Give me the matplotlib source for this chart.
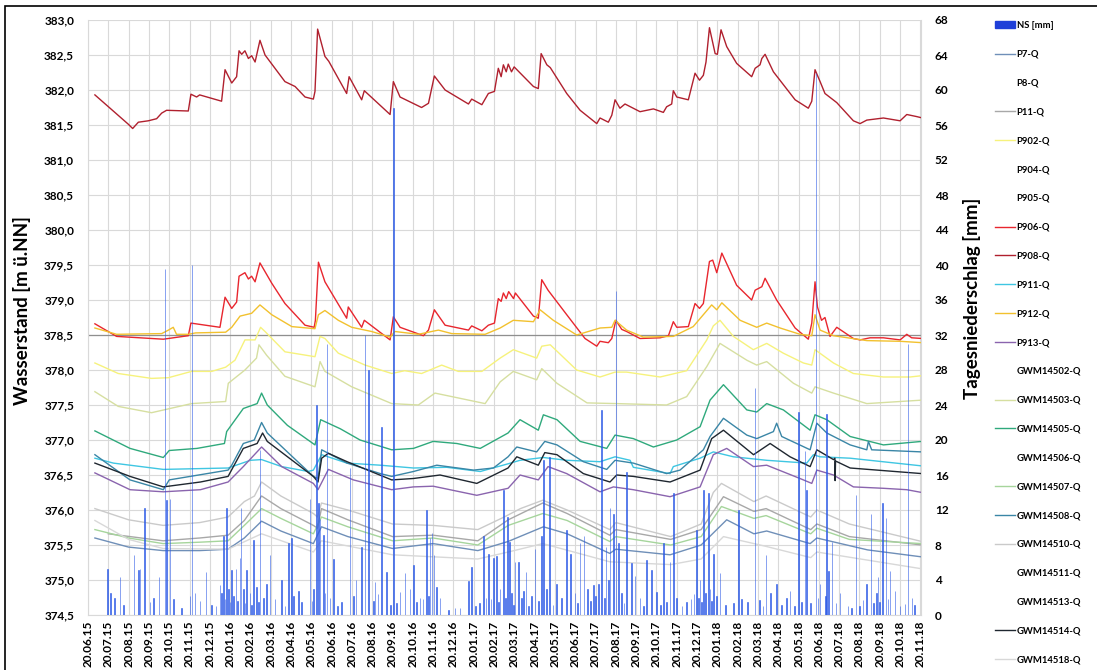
import matplotlib
matplotlib.use("Agg")
import matplotlib.pyplot as plt
import numpy as np
import pandas as pd
from matplotlib.lines import Line2D
from matplotlib.patches import Patch, Rectangle

plt.rcParams["font.family"] = ["Lato", "DejaVu Sans"]
plt.rcParams["font.weight"] = "bold"

# x = months since 20.06.15 (one gridline per month)
MONTH_LABELS = list(
    pd.date_range("2015-06-20", "2018-11-20", freq=pd.DateOffset(months=1)).strftime("%d.%m.%y")
)
REF_LEVEL = 378.5

# ---- groundwater levels [m ü.NN], (month, level) ----
P908 = [(0.34, 381.93), (1.99, 381.51), (2.2, 381.45), (2.48, 381.54), (2.97, 381.56), (3.38, 381.59),
        (3.63, 381.67), (3.87, 381.71), (4.94, 381.70), (5.07, 381.94), (5.35, 381.90), (5.5, 381.93),
        (6.58, 381.84), (6.75, 382.29), (7.08, 382.10), (7.32, 382.19), (7.44, 382.56), (7.57, 382.51),
        (7.73, 382.56), (7.9, 382.45), (8.06, 382.49), (8.23, 382.40), (8.47, 382.71), (8.72, 382.50),
        (9.7, 382.12), (10.2, 382.05), (10.69, 381.90), (11.1, 381.87), (11.18, 381.98), (11.31, 382.87),
        (11.43, 382.74), (11.67, 382.48), (11.86, 382.41), (12.74, 381.95), (12.86, 382.19), (13.48, 381.86),
        (13.61, 381.99), (14.88, 381.65), (15.04, 382.12), (15.37, 381.90), (16.43, 381.75), (16.77, 381.81),
        (17.06, 382.20), (17.59, 382.00), (18.74, 381.80), (18.9, 381.87), (19.4, 381.79), (19.72, 381.95),
        (20.02, 381.98), (20.21, 382.31), (20.35, 382.19), (20.46, 382.36), (20.6, 382.26), (20.7, 382.37),
        (20.86, 382.26), (20.99, 382.33), (21.94, 382.05), (22.18, 382.02), (22.32, 382.52), (22.6, 382.36),
        (22.77, 382.32), (23.58, 381.95), (24.24, 381.71), (25.06, 381.52), (25.22, 381.60), (25.63, 381.54),
        (25.8, 381.64), (25.96, 381.86), (26.2, 381.74), (26.45, 381.80), (27.19, 381.69), (27.85, 381.73),
        (28.34, 381.68), (28.5, 381.76), (28.75, 381.80), (28.83, 381.99), (29.0, 381.90), (29.57, 381.86),
        (29.9, 382.24), (30.12, 382.14), (30.31, 382.21), (30.44, 382.40), (30.61, 382.89), (30.89, 382.52),
        (31.0, 382.51), (31.18, 382.86), (31.46, 382.62), (31.95, 382.38), (32.69, 382.19), (32.86, 382.31),
        (33.1, 382.36), (33.19, 382.45), (33.35, 382.51), (33.76, 382.26), (34.83, 381.86), (35.48, 381.74),
        (35.65, 381.84), (35.81, 382.29), (36.06, 382.12), (36.3, 381.95), (36.88, 381.82), (37.7, 381.56),
        (38.03, 381.52), (38.36, 381.57), (39.18, 381.60), (40.0, 381.56), (40.33, 381.65), (40.82, 381.62),
        (41.1, 381.60)]

P906 = [(0.34, 378.66), (1.41, 378.48), (3.71, 378.44), (4.94, 378.49), (5.07, 378.67), (6.5, 378.61),
        (6.75, 379.04), (7.08, 378.88), (7.32, 378.97), (7.44, 379.34), (7.73, 379.39), (7.9, 379.30),
        (8.06, 379.34), (8.23, 379.26), (8.47, 379.53), (9.05, 379.24), (9.7, 378.95), (10.69, 378.64),
        (11.14, 378.61), (11.2, 378.71), (11.35, 379.54), (11.67, 379.26), (12.74, 378.74), (12.82, 378.90),
        (13.48, 378.61), (13.61, 378.71), (14.88, 378.43), (15.04, 378.76), (15.37, 378.61), (16.52, 378.49),
        (16.77, 378.57), (17.06, 378.86), (17.59, 378.64), (18.74, 378.57), (18.9, 378.63), (19.4, 378.56),
        (19.72, 378.64), (20.02, 378.67), (20.21, 379.02), (20.35, 378.98), (20.46, 379.10), (20.6, 379.02),
        (20.72, 379.12), (20.96, 379.02), (21.05, 379.10), (21.94, 378.77), (22.18, 378.74), (22.35, 379.29),
        (22.66, 379.14), (23.58, 378.79), (24.48, 378.45), (25.06, 378.34), (25.22, 378.41), (25.63, 378.39),
        (25.8, 378.45), (26.0, 378.71), (26.29, 378.58), (26.53, 378.55), (27.19, 378.45), (28.18, 378.46),
        (28.59, 378.49), (28.83, 378.69), (29.0, 378.61), (29.57, 378.62), (29.9, 378.95), (30.12, 378.88),
        (30.31, 378.95), (30.61, 379.55), (30.77, 379.57), (30.97, 379.39), (31.22, 379.67), (31.95, 379.21),
        (32.69, 379.00), (32.86, 379.14), (33.19, 379.19), (33.35, 379.31), (33.92, 379.00), (34.83, 378.60),
        (35.48, 378.44), (35.65, 378.67), (35.81, 379.26), (35.93, 378.90), (36.13, 378.71), (36.3, 378.75),
        (36.55, 378.48), (36.88, 378.61), (37.7, 378.45), (38.03, 378.43), (38.52, 378.46), (39.18, 378.46),
        (40.0, 378.43), (40.33, 378.51), (40.57, 378.46), (41.1, 378.45)]

P912 = [(0.34, 378.60), (1.41, 378.51), (3.63, 378.52), (3.96, 378.57), (4.2, 378.61), (4.36, 378.51),
        (4.94, 378.51), (5.3, 378.53), (6.78, 378.54), (7.08, 378.61), (7.49, 378.77), (8.06, 378.81),
        (8.47, 378.93), (9.05, 378.79), (10.04, 378.62), (11.18, 378.59), (11.35, 378.79), (11.67, 378.85),
        (12.33, 378.71), (12.99, 378.61), (13.97, 378.55), (14.88, 378.47), (15.12, 378.55), (16.27, 378.51),
        (17.26, 378.57), (17.92, 378.52), (19.56, 378.51), (20.3, 378.60), (20.95, 378.71), (21.94, 378.69),
        (22.27, 378.86), (22.92, 378.71), (24.07, 378.50), (25.22, 378.60), (25.8, 378.61), (25.96, 378.71),
        (26.53, 378.57), (27.35, 378.47), (28.83, 378.48), (29.81, 378.62), (30.72, 378.93), (30.97, 378.86),
        (31.22, 378.96), (32.12, 378.71), (32.94, 378.61), (33.43, 378.67), (34.09, 378.60), (35.07, 378.51),
        (35.65, 378.49), (35.81, 378.79), (36.06, 378.57), (36.72, 378.49), (38.36, 378.42), (40.0, 378.41),
        (41.1, 378.39)]

P902 = [(0.34, 378.10), (1.49, 377.95), (3.13, 377.88), (3.96, 377.89), (5.1, 377.98), (6.09, 377.98),
        (6.78, 378.04), (7.24, 378.14), (7.73, 378.43), (8.23, 378.43), (8.5, 378.61), (8.72, 378.55),
        (9.7, 378.26), (11.18, 378.19), (11.43, 378.48), (11.67, 378.45), (12.33, 378.24), (13.65, 378.07),
        (14.96, 377.95), (15.6, 377.99), (16.43, 377.95), (17.42, 378.07), (18.24, 377.98), (19.4, 377.98),
        (20.3, 378.17), (20.95, 378.29), (22.1, 378.17), (22.35, 378.34), (22.77, 378.36), (24.07, 378.00),
        (25.22, 377.90), (25.96, 377.97), (26.53, 377.97), (28.18, 377.90), (29.49, 377.99), (30.48, 378.43),
        (30.8, 378.63), (31.13, 378.71), (31.79, 378.48), (32.77, 378.29), (33.43, 378.38), (34.25, 378.24),
        (35.24, 378.10), (35.65, 378.07), (35.81, 378.29), (36.72, 378.10), (37.7, 377.95), (39.18, 377.90),
        (40.49, 377.90), (41.1, 377.92)]

GWM14503 = [(0.34, 377.69), (1.49, 377.48), (3.13, 377.39), (5.1, 377.52), (6.78, 377.55), (6.91, 377.81),
            (7.73, 378.00), (8.3, 378.17), (8.42, 378.36), (8.8, 378.21), (9.7, 377.91), (11.18, 377.76),
            (11.43, 378.12), (11.67, 377.98), (12.99, 377.76), (14.96, 377.52), (16.27, 377.50), (17.09, 377.67),
            (17.92, 377.62), (19.56, 377.52), (20.3, 377.83), (20.95, 377.98), (22.1, 377.86), (22.35, 378.02),
            (23.1, 377.81), (24.58, 377.53), (26.05, 377.52), (28.5, 377.50), (29.49, 377.62), (30.48, 378.05),
            (31.13, 378.38), (32.45, 378.14), (32.94, 378.07), (33.43, 378.12), (34.75, 377.81), (35.65, 377.67),
            (35.81, 377.76), (36.72, 377.67), (38.36, 377.52), (41.1, 377.57)]

GWM14505 = [(0.34, 377.13), (2.07, 376.88), (3.71, 376.75), (4.0, 376.85), (5.37, 376.88), (6.72, 376.95),
            (6.83, 377.12), (7.65, 377.45), (8.33, 377.52), (8.55, 377.67), (8.83, 377.50), (9.82, 377.21),
            (11.18, 376.93), (11.46, 377.29), (12.43, 377.16), (13.4, 377.00), (14.96, 376.86), (16.03, 376.88),
            (17.0, 376.98), (18.17, 376.95), (19.32, 376.88), (20.69, 377.10), (21.28, 377.29), (22.18, 377.14),
            (22.43, 377.36), (23.1, 377.29), (24.24, 376.98), (25.55, 376.88), (25.96, 377.07), (26.86, 377.02),
            (27.85, 376.90), (29.0, 377.00), (30.15, 377.19), (30.64, 377.57), (31.3, 377.79), (32.45, 377.43),
            (32.94, 377.40), (33.43, 377.52), (34.25, 377.43), (35.57, 377.14), (35.81, 377.36), (36.39, 377.29),
            (37.54, 377.05), (39.18, 376.93), (41.07, 376.98)]

GWM14508 = [(0.34, 376.79), (2.07, 376.43), (3.71, 376.29), (4.0, 376.43), (6.9, 376.57), (7.08, 376.64),
            (7.65, 376.95), (8.19, 377.00), (8.55, 377.25), (8.83, 377.10), (11.1, 376.48), (11.33, 376.45),
            (11.51, 376.86), (12.76, 376.67), (14.4, 376.52), (14.96, 376.48), (16.03, 376.55), (17.18, 376.64),
            (18.99, 376.57), (19.97, 376.60), (20.69, 376.76), (21.12, 376.90), (22.1, 376.83), (22.5, 376.98),
            (23.1, 376.93), (24.4, 376.69), (25.55, 376.58), (25.96, 376.71), (26.86, 376.67), (28.5, 376.52),
            (29.16, 376.57), (30.31, 376.86), (30.64, 377.05), (31.3, 377.31), (32.45, 377.07), (32.94, 377.02),
            (33.76, 377.12), (33.92, 377.24), (34.17, 377.05), (35.57, 376.86), (35.9, 377.24), (36.39, 377.10),
            (37.54, 376.93), (38.36, 376.86), (38.44, 376.98), (38.6, 376.86), (41.07, 376.83)]

P911 = [(0.34, 376.74), (1.25, 376.67), (3.71, 376.58), (6.9, 376.60), (8.0, 376.71), (8.55, 376.72),
        (9.54, 376.62), (10.85, 376.55), (11.1, 376.57), (11.51, 376.79), (12.76, 376.67), (14.4, 376.64),
        (16.03, 376.60), (17.67, 376.61), (19.32, 376.55), (20.69, 376.66), (21.28, 376.71), (22.43, 376.75),
        (23.58, 376.71), (25.22, 376.69), (25.96, 376.76), (26.7, 376.71), (26.86, 376.61), (28.67, 376.52),
        (28.83, 376.62), (30.15, 376.74), (30.8, 376.83), (31.79, 376.76), (33.43, 376.71), (35.4, 376.67),
        (35.73, 376.79), (36.06, 376.76), (37.54, 376.74), (41.07, 376.63)]

GWM14514 = [(0.34, 376.67), (2.07, 376.48), (3.71, 376.33), (5.54, 376.40), (6.9, 376.48), (7.65, 376.88),
            (8.33, 376.95), (8.6, 377.10), (8.83, 376.98), (11.1, 376.48), (11.33, 376.40), (11.51, 376.74),
            (11.84, 376.81), (12.76, 376.69), (14.96, 376.43), (16.03, 376.45), (17.34, 376.50), (19.15, 376.38),
            (20.69, 376.60), (21.12, 376.76), (22.18, 376.64), (22.5, 376.82), (23.1, 376.79), (24.4, 376.52),
            (25.71, 376.40), (26.04, 376.50), (26.86, 376.48), (28.67, 376.40), (30.15, 376.57), (30.72, 377.02),
            (31.3, 377.14), (32.78, 376.79), (33.6, 376.95), (34.58, 376.76), (35.57, 376.62), (35.9, 376.86),
            (36.72, 376.72), (36.79, 376.74), (36.8, 376.42), (36.82, 376.70), (37.54, 376.60), (41.07, 376.52)]

P913 = [(0.34, 376.53), (2.07, 376.29), (3.71, 376.26), (5.54, 376.29), (6.9, 376.40), (7.65, 376.62),
        (8.55, 376.90), (9.54, 376.62), (11.1, 376.38), (11.33, 376.29), (11.84, 376.58), (13.07, 376.43),
        (14.96, 376.29), (16.03, 376.33), (17.0, 376.34), (19.15, 376.21), (20.69, 376.31), (21.28, 376.50),
        (22.18, 376.43), (22.66, 376.62), (23.58, 376.52), (25.22, 376.26), (25.88, 376.33), (26.86, 376.29),
        (28.67, 376.19), (30.15, 376.33), (30.8, 376.79), (31.46, 376.88), (32.78, 376.62), (33.43, 376.64),
        (35.07, 376.45), (35.65, 376.38), (35.9, 376.57), (36.72, 376.50), (37.7, 376.33), (39.18, 376.31),
        (40.33, 376.29), (41.07, 376.25)]

GWM14510 = [(0.34, 376.02), (2.0, 375.86), (3.7, 375.78), (5.5, 375.82), (6.9, 375.90), (7.7, 376.12),
            (8.2, 376.20), (8.55, 376.40), (9.5, 376.20), (11.1, 375.95), (11.3, 375.90), (11.5, 376.10),
            (12.8, 376.00), (15.0, 375.80), (17.0, 375.78), (19.2, 375.72), (20.5, 375.90), (21.3, 376.02),
            (22.4, 376.14), (23.6, 376.00), (25.7, 375.72), (26.0, 375.82), (28.7, 375.62), (30.2, 375.80),
            (30.8, 376.25), (31.2, 376.38), (32.8, 376.12), (33.4, 376.20), (35.6, 375.90), (35.9, 376.00),
            (37.5, 375.80), (41.07, 375.55)]

P11 = [(1.0, 375.66), (3.7, 375.56), (5.5, 375.60), (6.9, 375.64), (7.7, 375.85), (8.55, 376.20),
       (9.5, 376.02), (11.1, 375.78), (11.3, 375.74), (11.5, 376.02), (12.8, 375.86), (15.0, 375.62),
       (17.0, 375.64), (19.2, 375.56), (20.7, 375.86), (22.4, 376.10), (23.6, 375.95), (25.7, 375.64),
       (26.0, 375.72), (28.7, 375.58), (30.2, 375.72), (31.3, 376.19), (32.8, 375.98), (33.4, 376.02),
       (35.6, 375.72), (35.9, 375.80), (37.5, 375.62), (41.07, 375.50)]

GWM14507 = [(0.34, 375.72), (2.0, 375.60), (3.7, 375.52), (5.5, 375.54), (6.9, 375.56), (7.7, 375.78),
            (8.55, 376.02), (9.5, 375.88), (11.1, 375.66), (11.5, 375.90), (12.8, 375.76), (15.0, 375.56),
            (17.0, 375.60), (19.2, 375.50), (20.7, 375.78), (22.4, 375.95), (23.6, 375.85), (25.7, 375.55),
            (26.0, 375.62), (28.7, 375.50), (30.2, 375.62), (31.2, 376.05), (32.8, 375.88), (33.4, 375.92),
            (35.6, 375.66), (35.9, 375.74), (37.5, 375.58), (41.07, 375.52)]

P7 = [(0.34, 375.60), (2.0, 375.47), (3.7, 375.42), (5.5, 375.42), (6.9, 375.44), (7.7, 375.60),
      (8.55, 375.84), (9.5, 375.70), (11.1, 375.52), (11.5, 375.76), (12.8, 375.62), (15.0, 375.45),
      (17.0, 375.52), (19.2, 375.42), (20.69, 375.55), (22.43, 375.76), (23.6, 375.66), (25.7, 375.38),
      (26.0, 375.44), (28.67, 375.36), (30.2, 375.50), (31.46, 375.86), (32.8, 375.66), (33.43, 375.70),
      (35.57, 375.52), (35.9, 375.60), (38.4, 375.43), (41.07, 375.33)]

GWM14518 = [(0.34, 375.85), (2.0, 375.58), (3.7, 375.45), (6.9, 375.44), (8.55, 375.66), (11.1, 375.40),
            (11.5, 375.56), (15.0, 375.36), (19.2, 375.30), (20.7, 375.40), (22.4, 375.52), (25.7, 375.26),
            (28.7, 375.22), (30.2, 375.30), (31.3, 375.62), (33.4, 375.48), (35.6, 375.32), (35.9, 375.40),
            (41.07, 375.16)]

NO_DATA = []  # wells listed in the legend without a visible line

# ---- daily precipitation [mm], (month, mm) ----
NS = [(0.95, 5.3), (1.1, 2.5), (1.32, 2.0), (1.58, 4.4), (1.75, 1.2), (2.27, 6.9), (2.48, 5.1), (2.56, 5.3),
      (2.77, 12.2), (3.05, 1.5), (3.22, 2.0), (3.5, 4.4), (3.79, 39.5), (3.88, 13.1), (4.04, 13.3), (4.2, 1.8),
      (4.6, 0.8), (5.02, 2.2), (5.12, 40.0), (5.27, 2.5), (5.52, 1.6), (5.81, 4.9), (6.09, 1.2), (6.3, 1.0),
      (6.5, 3.4), (6.58, 2.5), (6.67, 9.0), (6.75, 1.8), (6.83, 12.2), (6.91, 3.0), (7.0, 1.5), (7.08, 5.1),
      (7.16, 2.2), (7.29, 5.3), (7.38, 1.6), (7.49, 6.5), (7.54, 12.2), (7.65, 3.0), (7.74, 1.4), (7.82, 5.1),
      (7.98, 2.5), (8.06, 1.2), (8.14, 8.6), (8.31, 3.2), (8.39, 1.5), (8.47, 18.9), (8.64, 2.0), (8.8, 3.5),
      (8.97, 6.9), (9.21, 1.8), (9.54, 4.0), (9.7, 1.0), (9.87, 8.2), (10.03, 8.8), (10.11, 2.2), (10.36, 2.7),
      (10.52, 1.5), (10.94, 13.3), (11.03, 1.6), (11.11, 3.0), (11.27, 24.0), (11.35, 12.8), (11.43, 11.0),
      (11.59, 9.1), (11.67, 2.5), (11.77, 31.0), (11.92, 2.0), (12.08, 6.4), (12.3, 1.0), (12.5, 1.5),
      (12.9, 16.8), (13.07, 2.2), (13.2, 4.0), (13.48, 7.8), (13.65, 32.0), (13.81, 28.0), (14.05, 1.6),
      (14.14, 3.8), (14.29, 2.4), (14.47, 21.5), (14.71, 4.9), (14.9, 1.2), (15.04, 58.0), (15.2, 1.4),
      (15.37, 2.6), (15.62, 4.8), (15.86, 3.0), (16.02, 5.7), (16.18, 1.5), (16.35, 2.0), (16.5, 1.8),
      (16.68, 12.0), (16.77, 2.2), (16.85, 8.8), (16.94, 9.4), (17.04, 6.9), (17.18, 3.2), (17.34, 2.0),
      (17.75, 0.6), (18.08, 0.8), (18.33, 0.8), (18.73, 3.9), (18.9, 5.5), (19.1, 1.0), (19.3, 1.4),
      (19.47, 9.0), (19.6, 2.0), (19.72, 7.0), (19.85, 1.8), (19.97, 6.5), (20.13, 6.7), (20.22, 1.5),
      (20.3, 3.0), (20.46, 14.3), (20.55, 2.0), (20.66, 11.2), (20.75, 8.4), (20.87, 2.5), (20.95, 1.2),
      (21.03, 6.1), (21.2, 6.1), (21.36, 2.0), (21.44, 2.8), (21.58, 4.9), (21.7, 1.0), (21.86, 2.2),
      (22.02, 7.6), (22.2, 1.6), (22.35, 9.0), (22.43, 17.7), (22.59, 3.0), (22.72, 18.1), (22.9, 1.2),
      (23.09, 3.5), (23.33, 2.0), (23.58, 9.7), (23.78, 7.0), (23.99, 2.5), (24.1, 1.4), (24.24, 8.2),
      (24.43, 9.0), (24.6, 3.0), (24.75, 1.6), (24.89, 3.4), (25.0, 2.2), (25.14, 3.6), (25.3, 23.4),
      (25.43, 2.0), (25.52, 7.8), (25.63, 4.0), (25.71, 12.2), (25.88, 11.6), (26.01, 37.0), (26.12, 8.2),
      (26.29, 2.5), (26.4, 1.4), (26.54, 16.4), (26.78, 5.9), (26.95, 4.5), (27.19, 2.0), (27.35, 1.0),
      (27.52, 6.3), (27.77, 5.1), (28.01, 2.6), (28.2, 1.2), (28.34, 8.2), (28.5, 1.5), (28.67, 6.1),
      (28.83, 13.9), (29.0, 2.0), (29.25, 1.0), (29.49, 1.5), (29.7, 1.8), (29.85, 2.4), (29.98, 9.7),
      (30.07, 2.0), (30.15, 4.0), (30.23, 1.5), (30.31, 14.3), (30.4, 2.5), (30.56, 13.9), (30.64, 3.0),
      (30.72, 1.6), (30.8, 7.0), (30.97, 2.2), (31.13, 4.8), (31.4, 1.2), (31.79, 1.4), (32.03, 12.0),
      (32.2, 1.8), (32.5, 1.5), (32.86, 26.0), (33.09, 1.7), (33.25, 1.0), (33.4, 6.9), (33.63, 2.5),
      (33.92, 3.5), (34.17, 1.2), (34.42, 2.0), (34.58, 2.8), (34.8, 1.0), (34.99, 23.2), (35.15, 1.5),
      (35.32, 18.7), (35.4, 14.3), (35.6, 1.4), (35.86, 62.0), (35.95, 2.0), (36.06, 3.5), (36.31, 2.2),
      (36.39, 23.0), (36.47, 5.0), (36.64, 8.4), (36.85, 1.4), (37.04, 2.5), (37.44, 1.0), (37.6, 0.8),
      (37.83, 13.7), (38.0, 1.0), (38.18, 1.7), (38.36, 3.5), (38.56, 11.6), (38.7, 1.4), (38.85, 2.5),
      (38.92, 4.4), (39.0, 1.5), (39.15, 12.8), (39.31, 11.1), (39.4, 1.8), (39.51, 5.0), (39.75, 2.8),
      (40.0, 1.0), (40.25, 1.3), (40.39, 31.0), (40.58, 2.0), (40.7, 1.2)]

SERIES = [
    ("P7-Q", P7, "#6f8fb8"), ("P8-Q", NO_DATA, "white"), ("P11-Q", P11, "#a8a8a8"),
    ("P902-Q", P902, "#f6f27c"), ("P904-Q", NO_DATA, "white"), ("P905-Q", NO_DATA, "white"),
    ("P906-Q", P906, "#e8262e"), ("P908-Q", P908, "#b0202e"), ("P911-Q", P911, "#3fc6e2"),
    ("P912-Q", P912, "#f2c12e"), ("P913-Q", P913, "#8a64ae"), ("GWM14502-Q", NO_DATA, "white"),
    ("GWM14503-Q", GWM14503, "#d6dfa0"), ("GWM14505-Q", GWM14505, "#2fa97c"),
    ("GWM14506-Q", NO_DATA, "white"), ("GWM14507-Q", GWM14507, "#a6d59c"),
    ("GWM14508-Q", GWM14508, "#3a86a6"), ("GWM14510-Q", GWM14510, "#cacaca"),
    ("GWM14511-Q", NO_DATA, "white"), ("GWM14513-Q", NO_DATA, "white"),
    ("GWM14514-Q", GWM14514, "#1f2730"), ("GWM14518-Q", GWM14518, "#d8d8d8"),
]
BAR_COLOR = "#2d5be6"
GRID_COLOR = "#d9d9d9"

fig = plt.figure(figsize=(10.97, 6.70), dpi=100)
ax = fig.add_axes([88 / 1097, 1 - 615 / 670, (921 - 88) / 1097, (615 - 20) / 670])

for name, pts, color in SERIES:
    if pts:
        xs, ys = zip(*pts)
        ax.plot(xs, ys, color=color, lw=1.0, zorder=3)
ax.axhline(REF_LEVEL, color="#8f8f8f", lw=0.9, zorder=2)

ax.set_xlim(0, 41.03)
ax.set_ylim(374.5, 383.0)
ax.set_xticks(range(len(MONTH_LABELS)))
ax.set_xticklabels(MONTH_LABELS, rotation=90, fontsize=8.5, fontweight="bold")
yt = np.arange(374.5, 383.01, 0.5)
ax.set_yticks(yt)
ax.set_yticklabels([f"{v:.1f}".replace(".", ",") for v in yt], fontsize=8.5, fontweight="bold")
ax.grid(True, color=GRID_COLOR, lw=0.8, zorder=0)
ax.set_axisbelow(True)
ax.tick_params(axis="y", length=0, pad=10)
ax.tick_params(axis="x", length=0, pad=4)
for s in ax.spines.values():
    s.set_color(GRID_COLOR)
ax.spines["top"].set_visible(False)

ax2 = ax.twinx()
nx, nv = zip(*NS)
ax2.bar(nx, nv, width=1 / 30.44, color=BAR_COLOR, edgecolor=BAR_COLOR, linewidth=0.4, zorder=4)
ax2.set_ylim(0, 68)
ax2.set_yticks(range(0, 69, 4))
ax2.set_yticklabels([str(v) for v in range(0, 69, 4)], fontsize=8.5, fontweight="bold")
ax2.tick_params(axis="y", length=0, pad=10)
for s in ax2.spines.values():
    s.set_visible(False)

fig.text(22 / 1097, 1 - 311 / 670, "Wasserstand [m ü.NN]", rotation=90, ha="center", va="center",
         fontsize=13.5, fontweight="bold")
fig.text(972 / 1097, 1 - 298 / 670, "Tagesniederschlag [mm]", rotation=90, ha="center", va="center",
         fontsize=13.5, fontweight="bold")

handles = [Patch(facecolor="#1f3fd8", edgecolor="#1f3fd8")]
labels = ["NS [mm]"]
for name, pts, color in SERIES:
    handles.append(Line2D([], [], color=color, lw=1.0))
    labels.append(name)
fig.legend(handles, labels, loc="upper left", bbox_to_anchor=(995 / 1097, 1 - 21 / 670),
           frameon=False, fontsize=6.8, labelspacing=2.1, handlelength=2.1, handletextpad=0.2,
           borderpad=0, borderaxespad=0)

fig.add_artist(Rectangle((5 / 1097, -0.1), 1.2, 1.1 - 6 / 670, transform=fig.transFigure,
                         fill=False, edgecolor="black", lw=1.2))

fig.savefig("out.png", dpi=100)
